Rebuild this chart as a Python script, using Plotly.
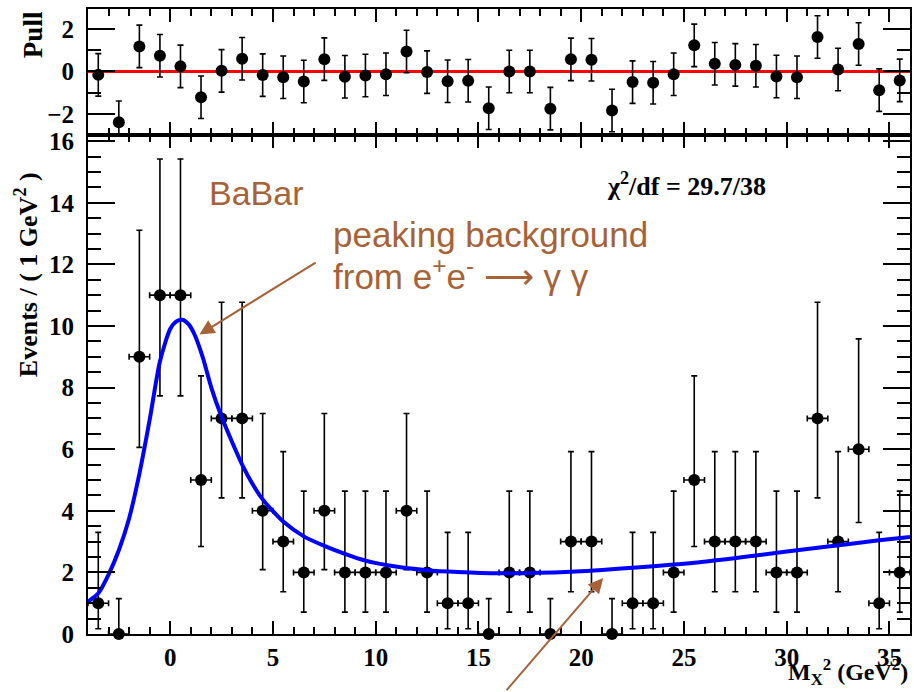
import plotly.graph_objects as go

# ---------------- data ----------------
bin_centers = [-3.5, -2.5, -1.5, -0.5, 0.5, 1.5, 2.5, 3.5, 4.5, 5.5,
               6.5, 7.5, 8.5, 9.5, 10.5, 11.5, 12.5, 13.5, 14.5, 15.5,
               16.5, 17.5, 18.5, 19.5, 20.5, 21.5, 22.5, 23.5, 24.5, 25.5,
               26.5, 27.5, 28.5, 29.5, 30.5, 31.5, 32.5, 33.5, 34.5, 35.5]
counts = [1, 0, 9, 11, 11, 5, 7, 7, 4, 3,
          2, 4, 2, 2, 2, 4, 2, 1, 1, 0,
          2, 2, 0, 3, 3, 0, 1, 1, 2, 5,
          3, 3, 3, 2, 2, 7, 3, 6, 1, 2]
# asymmetric (Poisson) error bar lengths read for each count value
err_low_by_count = {0: 0.0, 1: 0.83, 2: 1.29, 3: 1.63, 4: 1.91, 5: 2.16,
                    6: 2.38, 7: 2.58, 9: 2.94, 11: 3.27}
err_high_by_count = {0: 1.15, 1: 2.30, 2: 2.64, 3: 2.92, 4: 3.16, 5: 3.38,
                     6: 3.58, 7: 3.77, 9: 4.11, 11: 4.42}
bin_half_width = 0.5

pulls = [-0.16, -2.39, 1.18, 0.74, 0.24, -1.21, 0.03, 0.60, -0.17, -0.27,
         -0.47, 0.58, -0.25, -0.19, -0.13, 0.94, -0.03, -0.46, -0.44, -1.73,
         0.0, 0.0, -1.75, 0.57, 0.55, -1.84, -0.50, -0.53, -0.13, 1.23,
         0.36, 0.31, 0.27, -0.24, -0.27, 1.62, 0.09, 1.29, -0.88, -0.42]
pull_err = [1.0] * len(pulls)

fit_x = [-4.0, -3.5, -3.0, -2.5, -2.0, -1.5, -1.0, -0.5, 0.0, 0.3,
         0.6, 0.9, 1.2, 1.6, 2.0, 2.5, 3.0, 3.5, 4.0, 4.5,
         5.5, 6.5, 7.5, 8.5, 9.5, 10.5, 12.5, 14.0, 16.0, 19.5,
         22.5, 25.5, 28.5, 31.5, 34.5, 36.0]
fit_y = [1.05, 1.32, 1.93, 2.72, 3.75, 5.2, 6.95, 8.85, 9.9, 10.15,
         10.2, 10.05, 9.7, 8.95, 8.0, 7.05, 6.25, 5.5, 4.88, 4.37,
         3.65, 3.17, 2.86, 2.6, 2.38, 2.24, 2.07, 2.01, 1.97, 2.02,
         2.15, 2.31, 2.55, 2.80, 3.04, 3.15]

x_range = [-4, 36]
y_main_range = [0, 16.2]
y_pull_range = [-2.99, 2.94]

stat_text = "χ<sup>2</sup>/df = 29.7/38"

# ---------------- styling ----------------
BROWN = "#A66238"
SERIF = dict(family="Liberation Serif", size=25, color="black", weight="bold")

err_lo = [err_low_by_count[c] for c in counts]
err_hi = [err_high_by_count[c] for c in counts]

fig = go.Figure()

# pull panel: zero line then points
fig.add_trace(go.Scatter(x=x_range, y=[0, 0], mode="lines",
                         line=dict(color="#ff0000", width=3),
                         xaxis="x2", yaxis="y2", hoverinfo="skip"))
fig.add_trace(go.Scatter(x=bin_centers, y=pulls, mode="markers",
                         marker=dict(color="black", size=12),
                         error_y=dict(type="data", array=pull_err, color="black",
                                      thickness=1.6, width=3),
                         xaxis="x2", yaxis="y2", cliponaxis=False))

# main panel: data points then fit curve
fig.add_trace(go.Scatter(x=bin_centers, y=counts, mode="markers",
                         marker=dict(color="black", size=12),
                         error_y=dict(type="data", symmetric=False, array=err_hi,
                                      arrayminus=err_lo, color="black",
                                      thickness=1.6, width=3),
                         error_x=dict(type="constant", value=bin_half_width,
                                      color="black", thickness=1.6, width=3),
                         cliponaxis=False))
fig.add_trace(go.Scatter(x=fit_x, y=fit_y, mode="lines",
                         line=dict(color="#0000ff", width=4, shape="spline",
                                   smoothing=0.7)))

common_x = dict(range=x_range, showline=True, linecolor="black", linewidth=2,
                mirror="ticks", ticks="inside", ticklen=13, tickwidth=2,
                tickcolor="black", tick0=0, dtick=5, showgrid=False,
                zeroline=False,
                minor=dict(ticks="inside", dtick=1, ticklen=7, tickwidth=1.5,
                           tickcolor="black", showgrid=False))
common_y = dict(showline=True, linecolor="black", linewidth=2, mirror="ticks",
                ticks="inside", ticklen=27, tickwidth=2, tickcolor="black",
                showgrid=False, zeroline=False, tickfont=SERIF,
                ticklabelstandoff=7)

split = 499.0 / 625.0

fig.update_layout(
    width=914, height=692,
    margin=dict(l=88, r=2, t=9, b=58),
    paper_bgcolor="white", plot_bgcolor="white",
    showlegend=False,
    xaxis=dict(**common_x, anchor="y", domain=[0, 1], tickfont=SERIF,
               showticklabels=True),
    xaxis2=dict(**common_x, anchor="y2", domain=[0, 1], matches="x",
                showticklabels=False),
    yaxis=dict(**common_y, domain=[0, split], range=y_main_range, tick0=0,
               dtick=2,
               minor=dict(ticks="inside", dtick=0.5, ticklen=13, tickwidth=1.5,
                          tickcolor="black", showgrid=False)),
    yaxis2=dict(**common_y, domain=[split, 1], range=y_pull_range, tick0=0,
                dtick=2,
                minor=dict(ticks="inside", dtick=1, ticklen=13, tickwidth=1.5,
                           tickcolor="black", showgrid=False)),
)

W = 914 - 88 - 2
H = 692 - 9 - 58


def px(xp):
    return (xp - 88) / W


def py(yp):
    return 1 - (yp - 9) / H


annotations = [
    dict(text="Pull", xref="paper", yref="paper", x=px(33), y=py(35),
         textangle=-90, showarrow=False, xanchor="center", yanchor="middle",
         font=dict(family="Liberation Serif", size=27, color="black", weight="bold")),
    dict(text="Events / ( 1 GeV<sup>2</sup> )", xref="paper", yref="paper",
         x=px(26), y=py(275), textangle=-90, showarrow=False,
         xanchor="center", yanchor="middle",
         font=dict(family="Liberation Serif", size=26, color="black", weight="bold")),
    dict(text="M<sub>X</sub><sup>2</sup> (GeV<sup>2</sup>)", xref="paper",
         yref="paper", x=1.0, y=py(672), showarrow=False, xanchor="right",
         yanchor="middle", font=dict(family="Liberation Serif", size=24,
                                     color="black", weight="bold")),
    dict(text=stat_text, xref="paper", yref="paper", x=px(688), y=py(184),
         showarrow=False, xanchor="center", yanchor="middle",
         font=dict(family="Liberation Serif", size=26, color="black", weight="bold")),
    dict(text="BaBar", xref="paper", yref="paper", x=px(207), y=py(193),
         showarrow=False, xanchor="left", yanchor="middle",
         font=dict(family="Liberation Sans", size=34, color=BROWN)),
    dict(text="peaking background", xref="paper", yref="paper", x=px(332),
         y=py(235), showarrow=False, xanchor="left", yanchor="middle",
         font=dict(family="Liberation Sans", size=35, color=BROWN)),
    dict(text="from e<sup>+</sup>e<sup>-</sup> ⟶ γ γ", xref="paper",
         yref="paper", x=px(332), y=py(274), showarrow=False, xanchor="left",
         yanchor="middle",
         font=dict(family="Liberation Sans", size=35, color=BROWN)),
    # arrows
    dict(text="", xref="x", yref="y", axref="x", ayref="y",
         x=1.42, y=9.72, ax=7.15, ay=12.09, showarrow=True,
         arrowhead=2, arrowsize=1.5, arrowwidth=2, arrowcolor=BROWN),
    dict(text="", xref="x", yref="y", axref="x", ayref="y",
         x=21.07, y=1.82, ax=16.31, ay=-1.87, showarrow=True,
         arrowhead=2, arrowsize=1.5, arrowwidth=2, arrowcolor=BROWN),
]
fig.update_layout(annotations=annotations)

fig.write_html("out.html")
